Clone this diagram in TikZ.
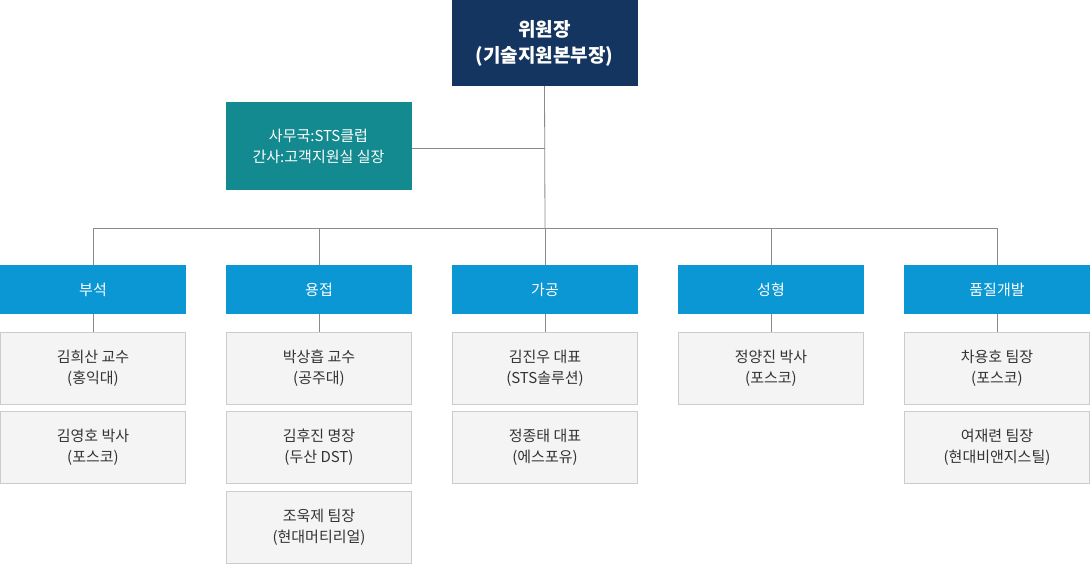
\documentclass[tikz,border=0pt]{standalone}
\usepackage{fontspec}
\setmainfont{Noto Sans CJK KR}
\definecolor{navy}{HTML}{14355F}
\definecolor{teal}{HTML}{138A8F}
\definecolor{sky}{HTML}{0B97D4}
\definecolor{gfill}{HTML}{F4F4F4}
\definecolor{gline}{HTML}{CCCCCC}
\definecolor{conn}{HTML}{8A8A8A}
\definecolor{txt}{HTML}{333333}
\tikzset{
 base/.style={minimum width=186pt,inner sep=0pt,align=center,font=\fontsize{15}{21}\selectfont},
 topbox/.style={base,fill=navy,text=white,minimum height=86pt,font=\fontsize{19}{26}\selectfont\bfseries},
 secbox/.style={base,fill=teal,text=white,minimum height=88pt},
 headbox/.style={base,fill=sky,text=white,minimum height=49pt},
 person/.style={base,fill=gfill,draw=gline,text=txt,minimum width=185pt,minimum height=72pt},
 link/.style={draw=conn,line width=0.8pt}
}
\begin{document}
\begin{tikzpicture}[x=1pt,y=-1pt]
\useasboundingbox (0,0) rectangle (1090,564);
\node[topbox] (top) at (544.5,43) {위원장\\(기술지원본부장)};
\node[secbox] (sec) at (318.5,146) {사무국:STS클럽\\간사:고객지원실 실장};
\coordinate (j) at (545,228);
\coordinate (js) at (545,148);
\draw[link] (top.south) -- (j);
\draw[link] (sec.east |- js) -- (js);
\foreach \n/\x/\t in {a/93/부석,b/319/용접,c/545/가공,d/771/성형,e/997/품질개발}{
 \node[headbox] (h\n) at (\x,289.5) {\t};
 \draw[link] (\x,228) -- (h\n.north);
}
\draw[link] (93,228) -- (997,228);
\node[person] (a1) at (93,368) {김희산 교수\\(홍익대)};
\node[person] (a2) at (93,447) {김영호 박사\\(포스코)};
\node[person] (b1) at (319,368) {박상흡 교수\\(공주대)};
\node[person] (b2) at (319,447) {김후진 명장\\(두산 DST)};
\node[person] (b3) at (319,527) {조욱제 팀장\\(현대머티리얼)};
\node[person] (c1) at (545,368) {김진우 대표\\(STS솔루션)};
\node[person] (c2) at (545,447) {정종태 대표\\(에스포유)};
\node[person] (d1) at (771,368) {정양진 박사\\(포스코)};
\node[person] (e1) at (997,368) {차용호 팀장\\(포스코)};
\node[person] (e2) at (997,447) {여재련 팀장\\(현대비앤지스틸)};
\foreach \n in {a,b,c,d,e}{\draw[link] (h\n.south) -- (\n1.north);}
\end{tikzpicture}
\end{document}
